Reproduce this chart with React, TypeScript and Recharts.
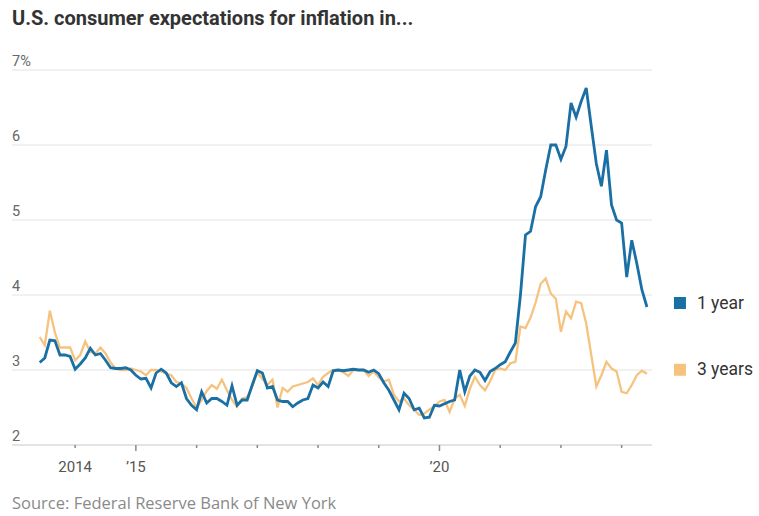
import React from 'react';
import { LineChart, Line, XAxis, YAxis, CartesianGrid } from 'recharts';

// Monthly survey data, June 2013 – June 2023
const START_YEAR = 2013;
const START_MONTH = 6;

const oneYear = [
  3.10, 3.16, 3.40, 3.39, 3.20, 3.20, 3.18, 3.01, 3.08, 3.16, 3.29, 3.20,
  3.22, 3.13, 3.03, 3.02, 3.02, 3.03, 3.00, 2.93, 2.88, 2.89, 2.76, 2.96,
  3.01, 2.96, 2.83, 2.78, 2.83, 2.62, 2.53, 2.47, 2.71, 2.56, 2.62, 2.62,
  2.58, 2.53, 2.79, 2.53, 2.60, 2.60, 2.80, 2.99, 2.96, 2.76, 2.78, 2.60,
  2.58, 2.58, 2.51, 2.56, 2.60, 2.62, 2.80, 2.76, 2.84, 2.78, 2.99, 3.00,
  2.99, 3.00, 3.01, 3.00, 3.00, 2.97, 3.00, 2.95, 2.83, 2.73, 2.60, 2.47,
  2.69, 2.62, 2.47, 2.49, 2.36, 2.37, 2.53, 2.52, 2.55, 2.58, 2.60, 3.00,
  2.71, 2.92, 3.00, 2.97, 2.86, 2.98, 3.02, 3.07, 3.11, 3.24, 3.36, 4.00,
  4.80, 4.85, 5.18, 5.31, 5.67, 6.00, 6.00, 5.81, 5.98, 6.56, 6.37, 6.58,
  6.76, 6.25, 5.75, 5.45, 5.93, 5.20, 5.00, 4.96, 4.24, 4.73, 4.42, 4.07,
  3.84,
];

const threeYear = [
  3.44, 3.33, 3.79, 3.50, 3.30, 3.30, 3.30, 3.13, 3.20, 3.38, 3.24, 3.22,
  3.30, 3.22, 3.10, 3.02, 3.00, 3.00, 3.02, 3.00, 2.98, 2.93, 3.00, 3.00,
  2.98, 2.95, 2.93, 2.84, 2.82, 2.76, 2.62, 2.50, 2.60, 2.72, 2.80, 2.75,
  2.87, 2.73, 2.60, 2.51, 2.62, 2.64, 2.78, 2.97, 2.88, 2.80, 2.87, 2.50,
  2.76, 2.71, 2.78, 2.80, 2.82, 2.84, 2.89, 2.80, 2.91, 2.96, 3.00, 3.00,
  2.97, 2.92, 3.00, 3.00, 3.00, 2.92, 2.98, 2.90, 2.85, 2.87, 2.67, 2.58,
  2.62, 2.53, 2.47, 2.40, 2.42, 2.47, 2.52, 2.58, 2.60, 2.44, 2.62, 2.67,
  2.52, 2.75, 2.91, 2.80, 2.73, 2.85, 3.00, 3.02, 3.00, 3.09, 3.11, 3.58,
  3.56, 3.70, 3.90, 4.15, 4.22, 4.02, 3.95, 3.51, 3.78, 3.69, 3.91, 3.89,
  3.62, 3.20, 2.78, 2.93, 3.11, 3.02, 2.98, 2.71, 2.69, 2.80, 2.93, 2.99,
  2.95,
];

const yTicks = [2, 3, 4, 5, 6, 7];
const xTicks = [2014, 2015, 2016, 2017, 2018, 2019, 2020, 2021, 2022, 2023];
const xTickLabels: Record<number, string> = { 2014: '2014', 2015: '\u201915', 2020: '\u201920' };
const majorTicks = [2015, 2020];

const TITLE = 'U.S. consumer expectations for inflation in...';
const SOURCE = 'Source: Federal Reserve Bank of New York';
const SERIES_1 = '1 year';
const SERIES_3 = '3 years';

const BLUE = '#1a6fa5';
const ORANGE = '#f6c37f';
const FONT = 'Roboto, "Liberation Sans", sans-serif';

const data = oneYear.map((v, i) => ({
  t: START_YEAR + (START_MONTH - 1 + i) / 12,
  oneYear: v,
  threeYear: threeYear[i],
}));
const LAST = data.length - 1;

const XTick = (props: any) => {
  const { x, y, payload } = props;
  const major = majorTicks.includes(payload.value);
  const label = xTickLabels[payload.value];
  return (
    <g>
      <line x1={x} x2={x} y1={y} y2={y + (major ? 6 : 3)} stroke="#8a8a8a" strokeWidth={1.5} />
      {label && (
        <text x={x} y={y + 27} textAnchor="middle" fill="#555" fontSize={15} fontFamily={FONT}>
          {label}
        </text>
      )}
    </g>
  );
};

const YTick = (props: any) => {
  const { y, payload } = props;
  return (
    <text x={12} y={y - 4} textAnchor="start" fill="#666" fontSize={14.5} fontFamily={FONT}>
      {payload.value === 7 ? '7%' : String(payload.value)}
    </text>
  );
};

const endLabel = (name: string, color: string) => (props: any) => {
  const { x, y, index } = props;
  if (index !== LAST) return null;
  return (
    <g>
      <rect x={x + 27} y={y - 10} width={12} height={12} fill={color} />
      <text x={x + 50} y={y + 1.5} fill="#333" fontSize={17.5} fontFamily={FONT}>
        {name}
      </text>
    </g>
  );
};

export default function App() {
  return (
    <div style={{ position: 'absolute', left: 0, top: 0, width: 759, height: 516, background: '#fff' }}>
      <LineChart
        width={759}
        height={516}
        data={data}
        margin={{ top: 70, right: 107, bottom: 0, left: 12 }}
      >
        <CartesianGrid vertical={false} stroke="#e2e2e2" />
        <XAxis
          dataKey="t"
          type="number"
          domain={[2012.96, 2023.5]}
          ticks={xTicks}
          tick={<XTick />}
          tickLine={false}
          tickSize={0}
          tickMargin={0}
          axisLine={{ stroke: '#d6d6d6' }}
          height={71}
          interval={0}
          allowDataOverflow
        />
        <YAxis
          type="number"
          domain={[2, 7]}
          ticks={yTicks}
          tick={<YTick />}
          axisLine={false}
          tickLine={false}
          tickSize={0}
          tickMargin={0}
          width={40}
          mirror
          interval={0}
        />
        <Line
          dataKey="threeYear"
          stroke={ORANGE}
          strokeWidth={2.3}
          dot={false}
          isAnimationActive={false}
          label={endLabel(SERIES_3, ORANGE)}
        />
        <Line
          dataKey="oneYear"
          stroke={BLUE}
          strokeWidth={2.8}
          dot={false}
          isAnimationActive={false}
          label={endLabel(SERIES_1, BLUE)}
        />
      </LineChart>
      <svg width={759} height={516} style={{ position: 'absolute', left: 0, top: 0, pointerEvents: 'none' }}>
        <text x={12} y={25} fill="#333" fontSize={20} fontWeight={700} fontFamily={FONT}>
          {TITLE}
        </text>
        <text x={12} y={509} fill="#8a8a8a" fontSize={16.5} fontFamily='"Open Sans", sans-serif'>
          {SOURCE}
        </text>
      </svg>
    </div>
  );
}
